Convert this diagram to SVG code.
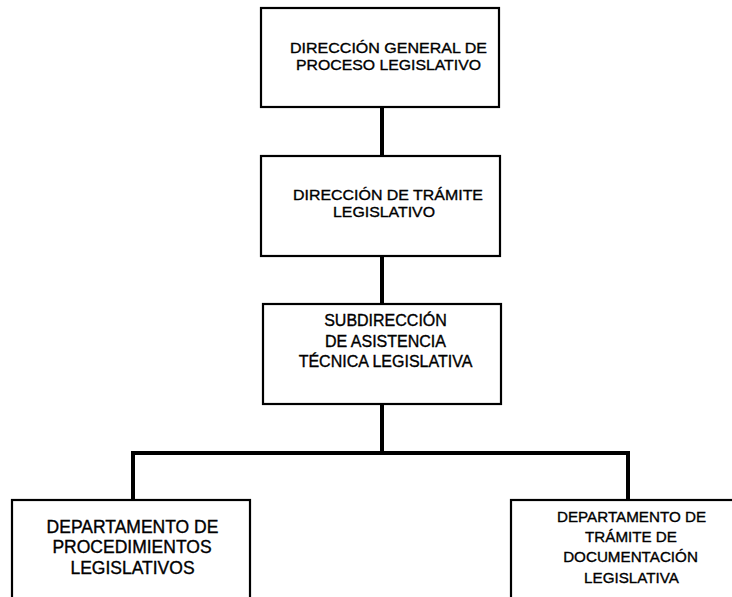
<svg xmlns="http://www.w3.org/2000/svg" width="732" height="597" viewBox="0 0 732 597">
<style>
.box{fill:#fff;stroke:#000;stroke-width:2.2}
.conn{fill:none;stroke:#000;stroke-width:4;stroke-linecap:square;stroke-linejoin:miter}
text{font-family:"Liberation Sans",Arial,sans-serif;font-size:16px;fill:#000;text-anchor:middle;stroke:#000;stroke-width:0.35}
.tight{font-size:15.5px}
</style>
<rect width="732" height="597" fill="#fff"/>
<g id="connectors">
<line class="conn" x1="382" y1="108" x2="382" y2="155"/>
<line class="conn" x1="382" y1="257" x2="382" y2="303"/>
<line class="conn" x1="382" y1="405" x2="382" y2="453"/>
<polyline class="conn" points="133,499 133,453 628,453 628,499"/>
</g>
<g id="n1">
<rect class="box" x="261" y="8" width="238" height="99"/>
<text class="tight" x="388.5" y="53" textLength="197" lengthAdjust="spacingAndGlyphs">DIRECCIÓN GENERAL DE</text>
<text class="tight" x="388.5" y="70" textLength="185" lengthAdjust="spacingAndGlyphs">PROCESO LEGISLATIVO</text>
</g>
<g id="n2">
<rect class="box" x="261" y="156" width="239" height="100"/>
<text class="tight" x="388" y="200" textLength="190" lengthAdjust="spacingAndGlyphs">DIRECCIÓN DE TRÁMITE</text>
<text class="tight" x="384" y="217" textLength="102" lengthAdjust="spacingAndGlyphs">LEGISLATIVO</text>
</g>
<g id="n3">
<rect class="box" x="263" y="304" width="238" height="100"/>
<text x="385.5" y="326">SUBDIRECCIÓN</text>
<text x="385.5" y="347">DE ASISTENCIA</text>
<text x="385.5" y="367">TÉCNICA LEGISLATIVA</text>
</g>
<g id="n4">
<rect class="box" x="12" y="500" width="238" height="120"/>
<text x="132.5" y="533" style="font-size:17.5px">DEPARTAMENTO DE</text>
<text x="132" y="553" style="font-size:17.5px">PROCEDIMIENTOS</text>
<text x="132.5" y="574" style="font-size:17.5px">LEGISLATIVOS</text>
</g>
<g id="n5">
<rect class="box" x="511" y="500" width="240" height="120"/>
<text x="631.5" y="522" style="font-size:15.2px">DEPARTAMENTO DE</text>
<text x="631" y="542" style="font-size:15.2px">TRÁMITE DE</text>
<text x="630.5" y="562" style="font-size:15.2px">DOCUMENTACIÓN</text>
<text x="631.5" y="583" style="font-size:15.2px">LEGISLATIVA</text>
</g>
</svg>
